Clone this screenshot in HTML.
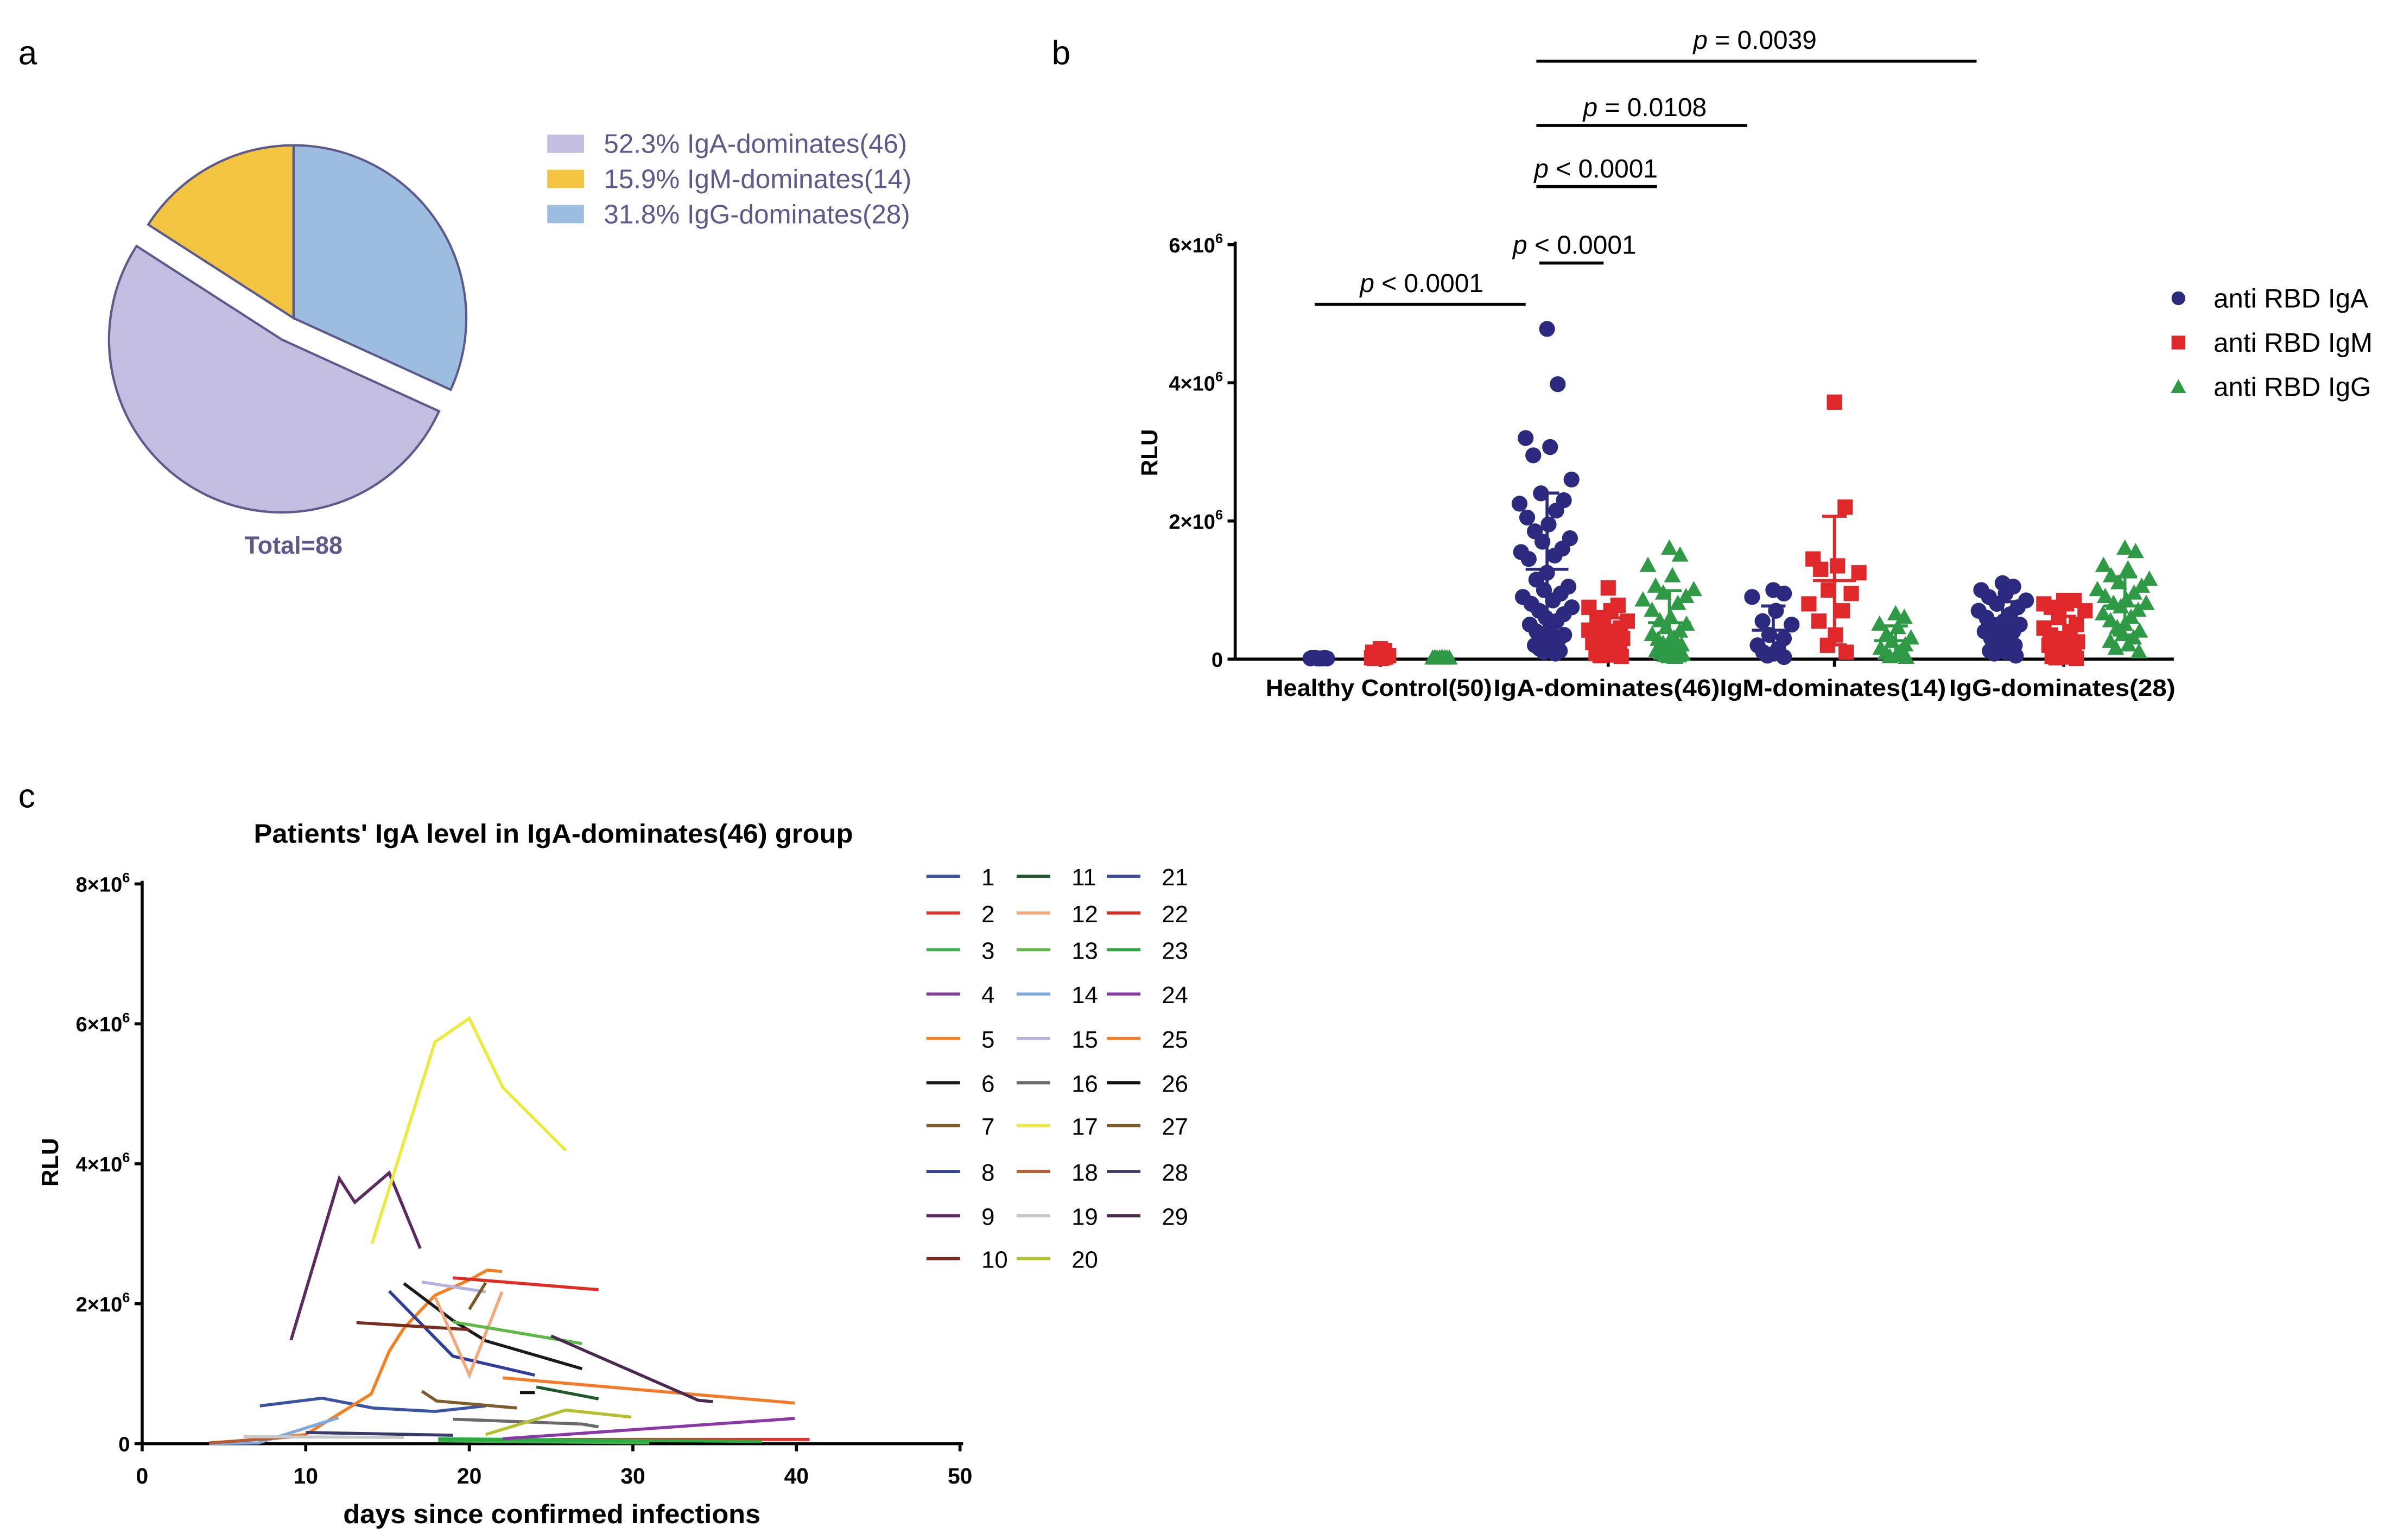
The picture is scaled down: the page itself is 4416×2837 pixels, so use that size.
<!DOCTYPE html>
<html><head><meta charset="utf-8"><style>
html,body{margin:0;padding:0;background:#fff;}
svg{display:block;}
text{font-family:"Liberation Sans",sans-serif;}
</style></head><body>
<svg id="fig" width="4416" height="2837" viewBox="0 0 1568 1007" preserveAspectRatio="none" xmlns="http://www.w3.org/2000/svg">
<g id="pa"></g>
<g id="pb"></g>
<g id="pc"></g>
</svg>
<script>
// ---------- Panel a data ----------
const pieLabels = ["IgA-dominates(46)","IgM-dominates(14)","IgG-dominates(28)"];
const piePercents = [52.3, 15.9, 31.8];
const pieColors = ["#c3bedf","#f2c440","#9dbde0"];

// ---------- Panel b data ----------
const groupNames = ["Healthy Control(50)","IgA-dominates(46)","IgM-dominates(14)","IgG-dominates(28)"];
const seriesNamesB = ["anti RBD IgA","anti RBD IgM","anti RBD IgG"];
const bYTicks = [0,2,4,6];
const hcIgA = [0.01,0.01,0.02,0.01,0.02,0.01,0.01,0.02,0.01,0.01,0.02,0.01];
const hcIgM = [0.15,0.12,0.1,0.08,0.06,0.05,0.04,0.03,0.02,0.02,0.01,0.01];
const hcIgG = [0.01,0.01,0.01,0.01,0.01,0.01,0.01,0.01,0.01,0.01,0.01,0.01];
const igaIgA = [4.78,3.98,3.2,3.07,2.95,2.6,2.4,2.3,2.25,2.15,2.05,1.95,1.85,1.75,1.7,1.6,1.55,1.5,1.45,1.25,1.15,1.05,1.0,0.95,0.9,0.85,0.8,0.75,0.7,0.65,0.6,0.55,0.5,0.45,0.4,0.35,0.3,0.28,0.25,0.22,0.2,0.18,0.15,0.12,0.1,0.08];
const igaIgM = [1.03,0.78,0.75,0.7,0.6,0.55,0.5,0.45,0.42,0.4,0.38,0.35,0.33,0.3,0.28,0.26,0.24,0.22,0.2,0.18,0.16,0.14,0.12,0.1,0.08,0.06,0.05,0.04];
const igaIgG = [1.6,1.5,1.35,1.2,1.05,1.0,0.95,0.9,0.85,0.8,0.7,0.6,0.55,0.5,0.45,0.4,0.35,0.3,0.28,0.25,0.22,0.2,0.18,0.15,0.12,0.1,0.08,0.06,0.05,0.04,0.03,0.02];
const igmIgA = [1.0,0.95,0.9,0.7,0.55,0.5,0.35,0.3,0.2,0.15,0.1,0.08,0.05,0.03];
const igmIgM = [3.72,2.2,1.45,1.35,1.3,1.25,1.0,0.95,0.8,0.7,0.55,0.35,0.2,0.1];
const igmIgG = [0.65,0.6,0.5,0.45,0.35,0.3,0.25,0.2,0.15,0.1,0.08,0.05,0.03,0.02];
const iggIgA = [1.1,1.05,1.0,0.95,0.9,0.85,0.8,0.75,0.7,0.65,0.6,0.55,0.5,0.5,0.45,0.4,0.4,0.35,0.3,0.3,0.25,0.2,0.2,0.15,0.12,0.1,0.08,0.05];
const iggIgM = [0.85,0.85,0.8,0.8,0.75,0.7,0.6,0.5,0.45,0.4,0.35,0.3,0.3,0.25,0.25,0.2,0.2,0.15,0.15,0.1,0.1,0.08,0.06,0.05,0.04,0.03,0.02,0.01];
const iggIgG = [1.6,1.55,1.35,1.3,1.2,1.15,1.1,1.05,1.0,0.95,0.9,0.85,0.8,0.8,0.75,0.7,0.65,0.6,0.55,0.5,0.45,0.4,0.35,0.3,0.25,0.2,0.15,0.1];
const pLabels = ["p = 0.0039","p = 0.0108","p < 0.0001","p < 0.0001","p < 0.0001"];

// ---------- Panel c data ----------
const cXTicks = [0,10,20,30,40,50];
const cYTicks = [0,2,4,6,8];
const patientIds = ["1","2","3","4","5","6","7","8","9","10","11","12","13","14","15","16","17","18","19","20","21","22","23","24","25","26","27","28","29"];
const patientDays = [
[7.2,11,14.1,17.9,21],[25,40.8],[18.1,31],[],[4.1,10,14,15.1,16,17.9,20,21.1,22],
[16,19,21,26.9],[17.1,18,22.9],[15.1,19,24],[9.1,12.05,13,15.1,17],[13.1,20],
[24.1,27.9],[17.9,20,22],[19,26.9],[4.1,7.1,12],[17.1,21],
[19,26.9,27.9],[14.05,17.9,20,22.05,25.9],[4.1,10],[6.2,16],[21,25.9,29.9],
[],[19,27.9],[18.1,37.9],[22.05,39.9],[22.05,39.9],
[23.1,24],[20,21],[10,19],[25,34,34.9]];
const patientVals = [
[0.54,0.65,0.51,0.46,0.54],[0.06,0.06],[0.04,0.01],[],[0,0.13,0.71,1.32,1.65,2.12,2.34,2.48,2.46],
[2.29,1.76,1.47,1.07],[0.75,0.61,0.51],[2.18,1.25,0.98],[1.48,3.79,3.45,3.87,2.79],[1.73,1.63],
[0.81,0.64],[2.1,0.98,2.17],[1.74,1.43],[0,0.01,0.37],[2.31,2.17],
[0.35,0.28,0.24],[2.86,5.74,6.08,5.09,4.19],[0.01,0.11],[0.1,0.09],[0.13,0.48,0.38],
[],[2.37,2.2],[0.07,0.03],[0.07,0.36],[0.94,0.58],
[0.73,0.73],[1.92,2.3],[0.16,0.12],[1.54,0.62,0.6]];
const patientColors = ["#3a53a4","#e8312a","#3bb34a","#7b3f98","#f47f20","#1a1a1a","#7c5c2a","#2e3e9a","#5b2a5e","#7a2c1e","#1e5a2e","#f4a87a","#5dba46","#7fa9dc","#b4b2dc","#6a6a6a","#ecea3c","#b85a2a","#c8c8c8","#b4c030","#3a4aa0","#e02a22","#2aaa40","#8a38a8","#f47a28","#111111","#7a5a28","#3a3a6a","#4a2a4e"];

const NS="http://www.w3.org/2000/svg";
function mk(parent,tag,attrs,txt){const e=document.createElementNS(NS,tag);for(const k in attrs)e.setAttribute(k,attrs[k]);if(txt!==undefined)e.textContent=txt;parent.appendChild(e);return e;}

// ================= Panel a =================
const pa=document.getElementById('pa');
let t=mk(pa,'text',{x:12,y:42,'font-size':22},'a');


(function(){
  const cx=192,cy=208,r=113,off=16;
  const order=[2,0,1];
  let start=0;
  order.forEach(i=>{
    const ang=piePercents[i]/100*360;
    const a0=start*Math.PI/180,a1=(start+ang)*Math.PI/180,mid=(start+ang/2)*Math.PI/180;
    let ox=0,oy=0; if(i===0){ox=Math.sin(mid)*off;oy=-Math.cos(mid)*off;}
    const x0=cx+ox+Math.sin(a0)*r,y0=cy+oy-Math.cos(a0)*r,x1=cx+ox+Math.sin(a1)*r,y1=cy+oy-Math.cos(a1)*r;
    const p=mk(pa,'path',{d:`M${cx+ox},${cy+oy}L${x0},${y0}A${r},${r} 0 ${ang>180?1:0} 1 ${x1},${y1}Z`,fill:pieColors[i],stroke:'#5c5a8c','stroke-width':1.5});
    
    
    start+=ang;
  });
  const legY=[94,117,140];
  [0,1,2].forEach((i)=>{
    const sw=mk(pa,'rect',{x:358,y:legY[i]-6,width:24,height:12,fill:pieColors[i]});
    
    
    const lt=mk(pa,'text',{x:395,y:legY[i]+6,'font-size':17.5,fill:'#5c5a8c'},piePercents[i].toFixed(1)+'%  '+pieLabels[i]);
    
    
    lt.setAttribute('xml:space','preserve');
  });
  const tt=mk(pa,'text',{x:192,y:362,'font-size':16,'font-weight':'bold',fill:'#5c5a8c','text-anchor':'middle'},'Total=88');
  
  
})();

// ================= Panel b =================
const pb=document.getElementById('pb');
t=mk(pb,'text',{x:688,y:42,'font-size':22},'b');


(function(){
  const X0=808,Y0=431,PER=45.17;
  const yS=v=>Y0-v*PER;
  const groupCenters=[903,1052,1200,1350];
  const gx=(g,s)=>groupCenters[g]+(s-1)*40;
  const colors=["#2b2a7e","#e0282a","#2e9a46"];
  const data=[[hcIgA,hcIgM,hcIgG],[igaIgA,igaIgM,igaIgG],[igmIgA,igmIgM,igmIgG],[iggIgA,iggIgM,iggIgG]];
  let ax=mk(pb,'line',{x1:X0,y1:158,x2:X0,y2:Y0,stroke:'#000','stroke-width':2});
   
  ax=mk(pb,'line',{x1:X0,y1:Y0,x2:1422,y2:Y0,stroke:'#000','stroke-width':2});
   
  bYTicks.forEach(v=>{
    const tk=mk(pb,'line',{x1:X0-5,y1:yS(v),x2:X0,y2:yS(v),stroke:'#000','stroke-width':2});
     
    const tl=mk(pb,'text',{x:X0-8,y:yS(v)+5,'font-size':13.5,'font-weight':'bold','text-anchor':'end'});
     
    if(v===0) tl.textContent='0'; else {tl.textContent=v+'×10'; mk(tl,'tspan',{dy:-6,'font-size':9},'6');}
  });
  const yl=mk(pb,'text',{x:757,y:296,'font-size':15,'font-weight':'bold','text-anchor':'middle',transform:'rotate(-90 757 296)'},'RLU');
   
  groupNames.forEach((n,g)=>{
    const tk=mk(pb,'line',{x1:gx(g,1),y1:Y0,x2:gx(g,1),y2:Y0+5,stroke:'#000','stroke-width':2});
     
    const tl=mk(pb,'text',{x:groupCenters[g]-1,y:455,'font-size':15.5,'font-weight':'bold','text-anchor':'middle',textLength:148,lengthAdjust:'spacingAndGlyphs'},n);
     
  });
  data.forEach((grp,g)=>grp.forEach((vals,s)=>{
    const c=colors[s], cxm=gx(g,s);
    vals.forEach((v,i)=>{
      const side=(i%2?1:-1), j=side*((i*7)%19)*Math.min(1,0.45+v*0.6)*(g===0?0.7:1);
      const x=cxm+j,y=yS(v);
      let m;
      if(s===0) m=mk(pb,'circle',{cx:x,cy:y,r:5.2,fill:c});
      else if(s===1) m=mk(pb,'rect',{x:x-5,y:y-5,width:10,height:10,fill:c});
      else m=mk(pb,'path',{d:`M${x},${y-6}L${x+5.5},${y+4}L${x-5.5},${y+4}Z`,fill:c});
      
      
    });
    if(g>0){
      const mean=vals.reduce((a,b)=>a+b,0)/vals.length;
      const sd=Math.sqrt(vals.reduce((a,b)=>a+(b-mean)*(b-mean),0)/(vals.length-1));
      const lo=Math.max(0,mean-sd);
      const eb=mk(pb,'path',{d:`M${cxm},${yS(lo)}L${cxm},${yS(mean+sd)}M${cxm-8},${yS(mean+sd)}L${cxm+8},${yS(mean+sd)}M${cxm-14},${yS(mean)}L${cxm+14},${yS(mean)}M${cxm-8},${yS(lo)}L${cxm+8},${yS(lo)}`,stroke:c,'stroke-width':2,fill:'none'});
       
    }
  }));
  const br=[[1005,1293,40,1148,32],[1005,1143,82,1076,76],[1005,1084,122,1044,116],[1007,1049,172,1030,166],[860,998,199,930,191]];
  br.forEach((b,i)=>{
    const l=mk(pb,'line',{x1:b[0],y1:b[2],x2:b[1],y2:b[2],stroke:'#000','stroke-width':2});
     
    const pt=mk(pb,'text',{x:b[3],y:b[4],'font-size':17,'text-anchor':'middle'});
     
    mk(pt,'tspan',{'font-style':'italic'},'p');
    mk(pt,'tspan',{},pLabels[i].slice(1));
  });
  const ly=[195,224,253];
  seriesNamesB.forEach((n,s)=>{
    const x=1425,y=ly[s];let m;
    if(s===0) m=mk(pb,'circle',{cx:x,cy:y,r:4.5,fill:colors[0]});
    else if(s===1) m=mk(pb,'rect',{x:x-4.5,y:y-4.5,width:9,height:9,fill:colors[1]});
    else m=mk(pb,'path',{d:`M${x},${y-5}L${x+5},${y+4}L${x-5},${y+4}Z`,fill:colors[2]});
     
    const lt=mk(pb,'text',{x:1448,y:y+6,'font-size':17.5},n);
     
  });
})();

// ================= Panel c =================
const pc=document.getElementById('pc');
t=mk(pc,'text',{x:12,y:528,'font-size':22},'c');


(function(){
  const X0=93,Y0=944,DX=(628-93)/50,PER=(944-578)/8;
  const xS=d=>X0+d*DX, yS=v=>Y0-v*PER;
  const ti=mk(pc,'text',{x:362,y:551,'font-size':17.5,'font-weight':'bold','text-anchor':'middle',textLength:392,lengthAdjust:'spacingAndGlyphs'},"Patients' IgA level in IgA-dominates(46) group");
   
  let ax=mk(pc,'line',{x1:X0,y1:576,x2:X0,y2:Y0,stroke:'#000','stroke-width':2});
   
  ax=mk(pc,'line',{x1:X0,y1:Y0,x2:630,y2:Y0,stroke:'#000','stroke-width':2});
   
  cXTicks.forEach(v=>{
    const tk=mk(pc,'line',{x1:xS(v),y1:Y0,x2:xS(v),y2:Y0+5,stroke:'#000','stroke-width':2});
     
    const tl=mk(pc,'text',{x:xS(v),y:970,'font-size':14.5,'font-weight':'bold','text-anchor':'middle'},String(v));
     
  });
  cYTicks.forEach(v=>{
    const tk=mk(pc,'line',{x1:X0-5,y1:yS(v),x2:X0,y2:yS(v),stroke:'#000','stroke-width':2});
     
    const tl=mk(pc,'text',{x:X0-8,y:yS(v)+5,'font-size':13.5,'font-weight':'bold','text-anchor':'end'});
     
    if(v===0) tl.textContent='0'; else {tl.textContent=v+'×10'; mk(tl,'tspan',{dy:-6,'font-size':9},'6');}
  });
  const xl=mk(pc,'text',{x:361,y:996,'font-size':17.5,'font-weight':'bold','text-anchor':'middle',textLength:273,lengthAdjust:'spacingAndGlyphs'},'days since confirmed infections');
   
  const yl=mk(pc,'text',{x:38,y:760,'font-size':15.5,'font-weight':'bold','text-anchor':'middle',transform:'rotate(-90 38 760)'},'RLU');
   
  patientIds.forEach((id,i)=>{
    const d=patientDays[i],v=patientVals[i];
    if(!d.length) return;
    const pts=d.map((x,k)=>xS(x)+','+yS(v[k])).join(' ');
    const pl=mk(pc,'polyline',{points:pts,fill:'none',stroke:patientColors[i],'stroke-width':2});
    
    
  });
  const rowsY=[573,597,621,650,679,708,736,766,795,823];
  const colX=[606,665,724];
  patientIds.forEach((id,i)=>{
    const col=Math.floor(i/10),row=i%10;
    const x=colX[col],y=rowsY[row];
    const sw=mk(pc,'line',{x1:x,y1:y,x2:x+22,y2:y,stroke:patientColors[i],'stroke-width':2});
     
    const lt=mk(pc,'text',{x:x+36,y:y+6,'font-size':15.5},id);
     
  });
})();
</script>
</body></html>
